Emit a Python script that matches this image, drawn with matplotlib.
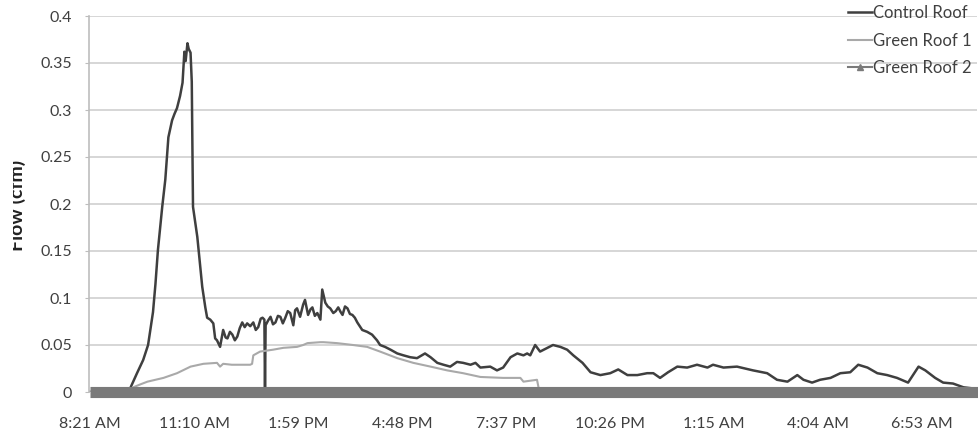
import matplotlib
matplotlib.use("Agg")
import matplotlib.pyplot as plt
from matplotlib.lines import Line2D
from matplotlib.transforms import Bbox, TransformedBbox

plt.rcParams["font.family"] = ["Lato", "DejaVu Sans"]

# minutes after 8:21 AM, flow in cfm
control_t = [0, 62, 65, 76, 86, 94, 102, 106, 110, 117, 122, 127, 133, 137, 141, 146,
             150, 153, 155, 158, 160, 163, 165, 167, 174, 182, 187, 190, 195, 200, 203,
             206, 211, 216, 220, 223, 227, 231, 235, 239, 243, 247, 251, 255, 260, 265,
             269, 273, 277, 280, 283, 284, 285, 289, 293, 297, 301, 305, 309, 313, 317,
             321, 325, 330, 333, 336, 341, 346, 349, 354, 358, 361, 365, 369, 374, 377,
             382, 386, 390, 395, 399, 403, 407, 410, 414, 418, 422, 426, 430, 434, 442,
             450, 458, 466, 471, 479, 488, 499, 509, 520, 531, 544, 553, 564, 574, 585,
             596, 606, 618, 626, 634, 650, 661, 671, 683, 694, 704, 710, 715, 723, 731,
             743, 752, 764, 775, 785, 800, 813, 829, 845, 858, 873, 889, 905, 915, 926,
             939, 954, 970, 986, 1003, 1012, 1029, 1051, 1077, 1100, 1116, 1133, 1149,
             1159, 1173, 1186, 1203, 1219, 1235, 1248, 1263, 1279, 1295, 1311, 1329,
             1337, 1346, 1357, 1373, 1386, 1402, 1419, 1445]
control_v = [0, 0, 0.004, 0.020, 0.034, 0.050, 0.085, 0.115, 0.151, 0.197, 0.226, 0.271,
             0.289, 0.296, 0.302, 0.315, 0.329, 0.362, 0.352, 0.371, 0.365, 0.361, 0.330,
             0.197, 0.165, 0.112, 0.090, 0.079, 0.077, 0.073, 0.057, 0.055, 0.048, 0.066,
             0.058, 0.057, 0.064, 0.061, 0.055, 0.059, 0.068, 0.074, 0.069, 0.073, 0.070,
             0.074, 0.066, 0.069, 0.078, 0.079, 0.077, 0.0, 0.071, 0.076, 0.080, 0.072,
             0.074, 0.081, 0.080, 0.073, 0.079, 0.086, 0.084, 0.071, 0.087, 0.089, 0.080,
             0.093, 0.098, 0.082, 0.088, 0.090, 0.081, 0.084, 0.077, 0.109, 0.095, 0.091,
             0.089, 0.084, 0.086, 0.090, 0.085, 0.082, 0.091, 0.089, 0.083, 0.082, 0.079,
             0.074, 0.066, 0.064, 0.061, 0.055, 0.050, 0.048, 0.045, 0.041, 0.039, 0.037,
             0.036, 0.041, 0.037, 0.031, 0.029, 0.027, 0.032, 0.031, 0.029, 0.031, 0.026,
             0.027, 0.023, 0.026, 0.037, 0.041, 0.039, 0.041, 0.039, 0.050, 0.043, 0.047,
             0.050, 0.048, 0.045, 0.039, 0.031, 0.021, 0.018, 0.020, 0.024, 0.018, 0.018,
             0.020, 0.020, 0.015, 0.021, 0.027, 0.026, 0.029, 0.026, 0.029, 0.026, 0.027,
             0.023, 0.020, 0.013, 0.011, 0.018, 0.013, 0.010, 0.013, 0.015, 0.020, 0.021,
             0.029, 0.026, 0.020, 0.018, 0.015, 0.010, 0.018, 0.027, 0.023, 0.015, 0.010,
             0.009, 0.005, 0.003]

green1_t = [0, 68, 70, 81, 93, 119, 141, 163, 184, 206, 211, 216, 230, 244, 260, 263,
            265, 276, 297, 314, 336, 346, 353, 374, 379, 401, 427, 450, 471, 499, 525,
            553, 580, 606, 634, 671, 699, 704, 726, 730, 1445]
green1_v = [0, 0, 0.005, 0.008, 0.011, 0.015, 0.020, 0.027, 0.030, 0.031, 0.027, 0.030,
            0.029, 0.029, 0.029, 0.030, 0.039, 0.043, 0.045, 0.047, 0.048, 0.050, 0.052,
            0.053, 0.053, 0.052, 0.050, 0.048, 0.043, 0.036, 0.031, 0.027, 0.023, 0.020,
            0.016, 0.015, 0.015, 0.011, 0.013, 0.0, 0.0]

green2_t = [0, 1445]
green2_v = [0, 0]

tick_pos = [0, 169, 338, 507, 676, 845, 1014, 1183, 1352]
tick_labels = ["8:21 AM", "11:10 AM", "1:59 PM", "4:48 PM", "7:37 PM",
               "10:26 PM", "1:15 AM", "4:04 AM", "6:53 AM"]
y_ticks = [0, 0.05, 0.1, 0.15, 0.2, 0.25, 0.3, 0.35, 0.4]
y_labels = ["0", "0.05", "0.1", "0.15", "0.2", "0.25", "0.3", "0.35", "0.4"]

fig = plt.figure(figsize=(9.79, 4.34), dpi=100)
ax = fig.add_axes([89 / 979, 1 - 392 / 434, 888 / 979, 376 / 434])

c_line, = ax.plot(control_t, control_v, color="#3f3f3f", lw=1.8, label="Control Roof")
g1_line, = ax.plot(green1_t, green1_v, color="#a9a9a9", lw=1.5, label="Green Roof 1")
ax.plot(green2_t, green2_v, color="#7a7a7a", lw=8, solid_capstyle="butt", clip_on=False)

ax.set_xlim(-2, 1441)
ax.set_ylim(0, 0.4)
ax.set_xticks(tick_pos)
ax.set_xticklabels(tick_labels)
ax.set_yticks(y_ticks)
ax.set_yticklabels(y_labels)
ax.tick_params(axis="both", labelsize=11.5, colors="#404040", length=0)
ax.tick_params(axis="y", pad=9, length=3, color="#bdbdbd")
ax.tick_params(axis="x", pad=18)
ax.grid(axis="y", color="#cfcfcf", lw=1.2)
ax.set_axisbelow(True)
for s in ["top", "right", "bottom"]:
    ax.spines[s].set_visible(False)
ax.spines["left"].set_color("#bdbdbd")
ax.spines["left"].set_linewidth(1.2)

# y label is cut off on its left side in the source image
ylab = fig.text(17 / 979, 1 - 205 / 434, "Flow (cfm)", rotation=90, fontsize=14,
                fontweight="bold", ha="center", va="center", color="#222222")
ylab.set_clip_box(TransformedBbox(Bbox([[13 / 979, 0], [1, 1]]), fig.transFigure))
ylab.set_clip_on(True)

g2_proxy = Line2D([], [], color="#7a7a7a", lw=1.5, marker="^", markersize=4)
ax.legend([c_line, g1_line, g2_proxy], ["Control Roof", "Green Roof 1", "Green Roof 2"],
          loc="upper right", bbox_to_anchor=(972 / 979, 1 - 5 / 434),
          bbox_transform=fig.transFigure, frameon=False, fontsize=12,
          labelspacing=0.7, handlelength=1.4, handletextpad=0.1,
          borderpad=0, borderaxespad=0, labelcolor="#404040")

fig.savefig("out.png", dpi=100)
